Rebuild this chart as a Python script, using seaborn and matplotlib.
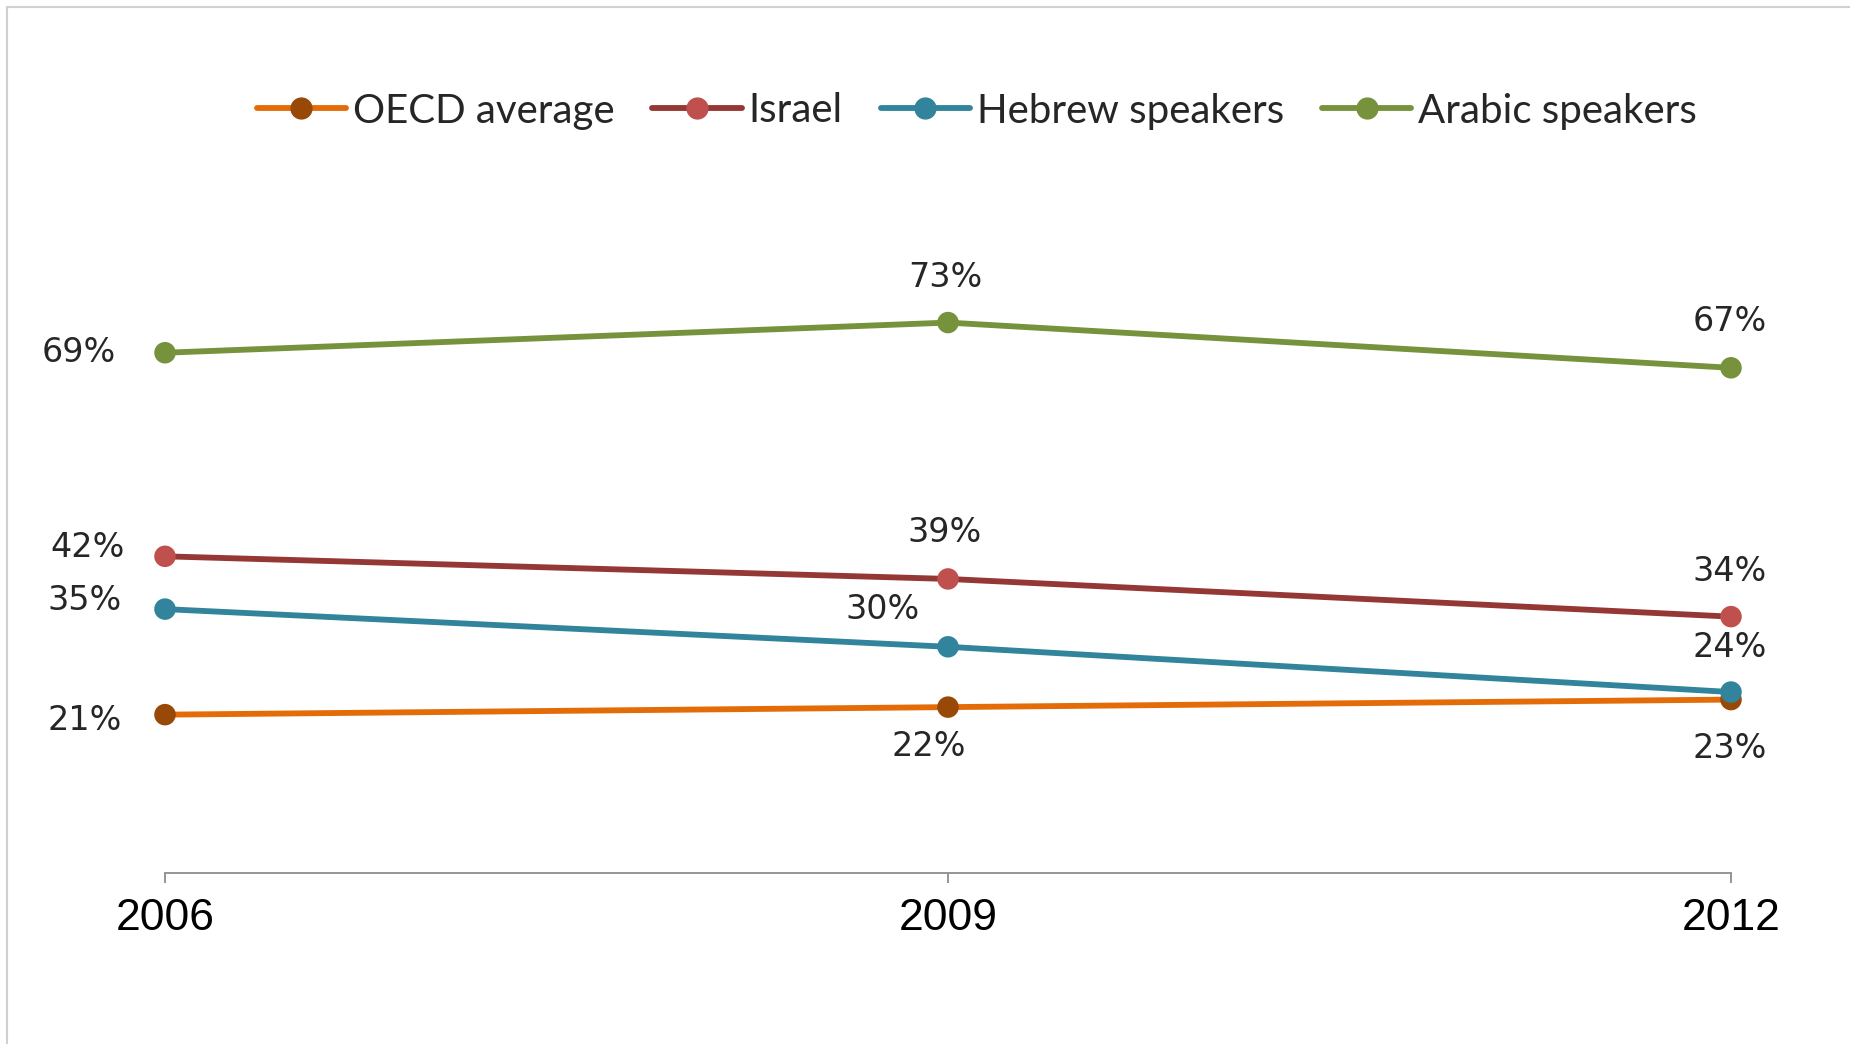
import matplotlib
matplotlib.use("Agg")
import matplotlib.pyplot as plt
from matplotlib.lines import Line2D
from matplotlib.patches import Rectangle
import seaborn as sns
import pandas as pd

# Share of students below proficiency level 2, by year and group
years = [2006, 2009, 2012]
series_names = ["OECD average", "Israel", "Hebrew speakers", "Arabic speakers"]
oecd = [21, 22, 23]
israel = [42, 39, 34]
hebrew = [35, 30, 24]
arabic = [69, 73, 67]

line_colors = ["#E36C09", "#953735", "#31849B", "#76923C"]
marker_colors = ["#984807", "#C0504D", "#31849B", "#76923C"]

# label offsets in pixels (dx, dy) for each series and year
label_offsets = {
    "OECD average": [(-80, -6), (-19, -39), (-1, -49)],
    "Israel": [(-77, 9), (-3, 46), (-1, 45)],
    "Hebrew speakers": [(-80, 9), (-65, 37), (-1, 45)],
    "Arabic speakers": [(-86, 0), (-3, 45), (-1, 46)],
}

values = [oecd, israel, hebrew, arabic]
df = pd.DataFrame(
    [(y, name, v) for name, vals in zip(series_names, values) for y, v in zip(years, vals)],
    columns=["year", "group", "pct"],
)

sns.set_theme(style="white")
plt.rcParams["font.family"] = ["DejaVu Sans"]

fig = plt.figure(figsize=(18.5, 10.44), dpi=100)
ax = fig.add_axes([165 / 1850, 1 - 873 / 1044, (1731 - 165) / 1850, (873 - 119) / 1044])

sns.lineplot(
    data=df, x="year", y="pct", hue="group", hue_order=series_names,
    palette=line_colors, linewidth=4.2, ax=ax, legend=False,
)
sns.scatterplot(
    data=df, x="year", y="pct", hue="group", hue_order=series_names,
    palette=marker_colors, s=240, linewidth=0, ax=ax, legend=False, zorder=5,
)
for coll in ax.collections:
    coll.set_clip_on(False)
for ln in ax.lines:
    ln.set_clip_on(False)

ax.set_xlim(2006, 2012)
ax.set_ylim(0, 100)
ax.set_xticks(years)
ax.set_xticklabels([str(y) for y in years], fontsize=32, family="Liberation Sans", color="#000000")
ax.set_yticks([])
ax.set_xlabel("")
ax.set_ylabel("")
for side in ["top", "right", "left"]:
    ax.spines[side].set_visible(False)
ax.spines["bottom"].set_color("#8C8C8C")
ax.spines["bottom"].set_linewidth(1.3)
ax.tick_params(axis="x", direction="out", length=7, width=1.3, color="#8C8C8C", pad=11, bottom=True)

for name, vals in zip(series_names, values):
    for y, v, (dx, dy) in zip(years, vals, label_offsets[name]):
        ax.annotate(
            f"{v}%", xy=(y, v), xytext=(dx, dy), textcoords="offset pixels",
            ha="center", va="center", fontsize=24, color="#262626",
            family="DejaVu Sans", annotation_clip=False,
        )

handles = [
    Line2D([0], [0], color=lc, lw=4.2, marker="o", markersize=15,
           markerfacecolor=mc, markeredgecolor=mc)
    for lc, mc in zip(line_colors, marker_colors)
]
fig.legend(
    handles, series_names, loc="center", bbox_to_anchor=(0.528, 1 - 111 / 1044),
    ncol=4, frameon=False, prop={"family": "Lato", "size": 29},
    handlelength=2.21, handletextpad=0.17, columnspacing=0.95,
)

# outer chart border (left and top edges visible)
fig.add_artist(Rectangle((7 / 1850, -0.05), 1.1, 1 - 7 / 1044 + 0.05,
                         transform=fig.transFigure, fill=False,
                         edgecolor="#D0D0D0", linewidth=1.5))

fig.savefig("out.png", dpi=100, facecolor="white")
